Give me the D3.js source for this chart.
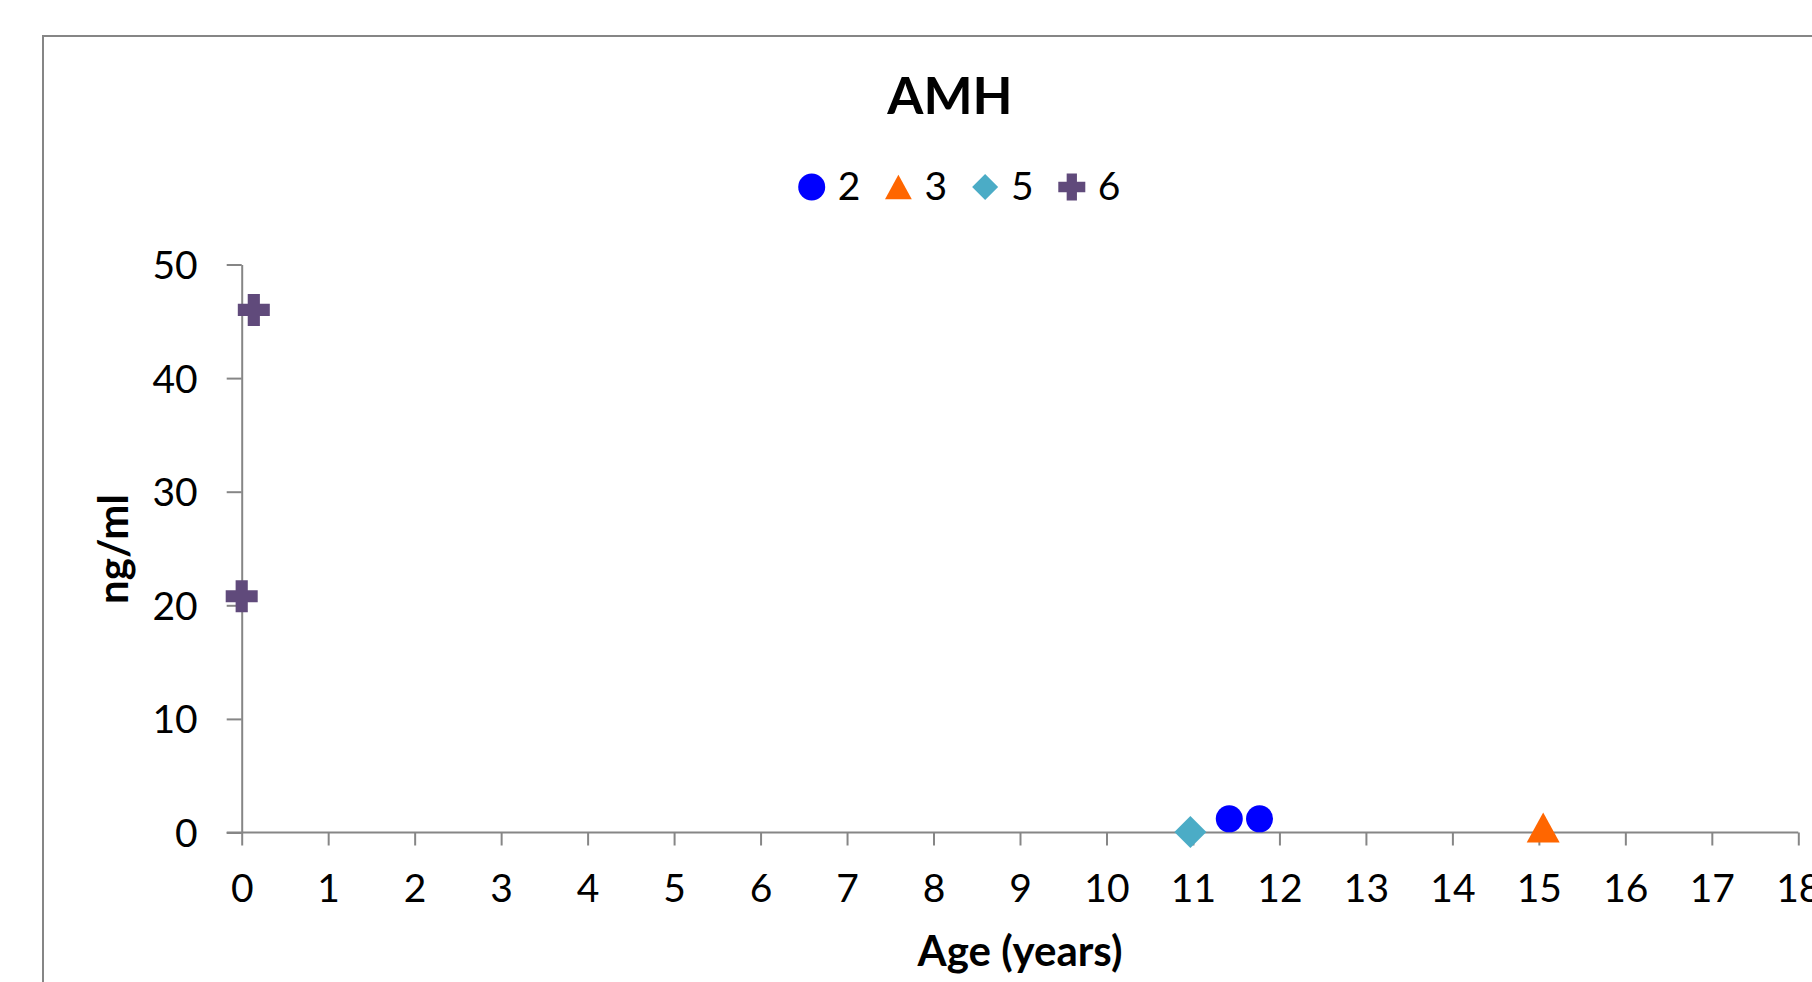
<!DOCTYPE html>
<html>
<head>
<meta charset="utf-8">
<script src="https://cdn.jsdelivr.net/npm/d3@7"></script>
<style>
  body { margin: 0; background: #fff; }
  svg { display: block; font-family: Lato, "Open Sans", sans-serif; }
</style>
</head>
<body>
<svg id="chart" width="1812" height="982"></svg>
<script>
// series (patient numbers) and their points
const seriesNames = ["2", "3", "5", "6"];
const age2 = [11.42, 11.77];
const amh2 = [1.2, 1.2];
const age3 = [15.05];
const amh3 = [0.44];
const age5 = [10.97];
const amh5 = [0.05];
const age6 = [0.14, 0.0];
const amh6 = [46.0, 20.8];

const xTicks = d3.range(0, 19, 1);
const yTicks = [0, 10, 20, 30, 40, 50];

const colors = ["#0000ff", "#ff6600", "#4bacc6", "#604a7b"];

const svg = d3.select("#chart");
const gray = "#868686";

const x = d3.scaleLinear().domain([0, 18]).range([241.7, 1798.3]);
const y = d3.scaleLinear().domain([0, 50]).range([832.5, 264.5]);

// marker shapes, all drawn around a bounding-box center
const circleShape = { draw(ctx, s) { const r = s / 2; ctx.moveTo(r, 0); ctx.arc(0, 0, r, 0, 2 * Math.PI); } };
const triangleShape = { draw(ctx, s) { const w = s * 1.03, h = s * 0.94; ctx.moveTo(0, -h / 2); ctx.lineTo(w / 2, h / 2); ctx.lineTo(-w / 2, h / 2); ctx.closePath(); } };
const diamondShape = { draw(ctx, s) { const r = s / 2; ctx.moveTo(0, -r); ctx.lineTo(r, 0); ctx.lineTo(0, r); ctx.lineTo(-r, 0); ctx.closePath(); } };
const crossShape = { draw(ctx, s) {
    const r = s / 2, a = s * 0.19;
    ctx.moveTo(-a, -r); ctx.lineTo(a, -r); ctx.lineTo(a, -a); ctx.lineTo(r, -a); ctx.lineTo(r, a);
    ctx.lineTo(a, a); ctx.lineTo(a, r); ctx.lineTo(-a, r); ctx.lineTo(-a, a); ctx.lineTo(-r, a);
    ctx.lineTo(-r, -a); ctx.lineTo(-a, -a); ctx.closePath();
} };
const shapes = [circleShape, triangleShape, diamondShape, crossShape];
const plotSizes = [27, 32, 32, 32];
const legendSizes = [27, 26, 26, 27];

const series = [
  { ages: age2, vals: amh2 },
  { ages: age3, vals: amh3 },
  { ages: age5, vals: amh5 },
  { ages: age6, vals: amh6 }
].map((s, i) => ({ name: seriesNames[i], color: colors[i], shape: shapes[i], size: plotSizes[i],
  points: s.ages.map((a, j) => ({ age: a, value: s.vals[j] })) }));

// outer chart frame (runs past the picture edges)
svg.append("rect")
    .attr("x", 43).attr("y", 36)
    .attr("width", 1900).attr("height", 1100)
    .attr("fill", "none")
    .attr("stroke", gray)
    .attr("stroke-width", 2);

// title
svg.append("text")
    .attr("x", 950).attr("y", 114)
    .attr("text-anchor", "middle")
    .attr("font-size", 52)
    .attr("font-weight", "bold")
    .text("AMH");

// legend
const legend = svg.append("g").attr("transform", "translate(811.7, 187)");
const items = legend.selectAll("g.item").data(series).enter()
    .append("g").attr("class", "item")
    .attr("transform", (d, i) => `translate(${i * 86.7}, 0)`);
items.append("path")
    .attr("d", (d, i) => d3.symbol().type(d.shape).size(legendSizes[i])())
    .attr("fill", d => d.color);
items.append("text")
    .attr("x", 26).attr("y", 12.5)
    .attr("font-size", 39)
    .text(d => d.name);

// axes
const xAxisGroup = svg.append("g")
    .attr("class", "xAxis")
    .attr("transform", `translate(0, ${y(0)})`);
const yAxisGroup = svg.append("g")
    .attr("class", "yAxis")
    .attr("transform", `translate(${x(0)}, 0)`);

xAxisGroup.call(d3.axisBottom(x).tickValues(xTicks).tickSize(13).tickSizeOuter(0).tickFormat(d3.format("d")));
yAxisGroup.call(d3.axisLeft(y).tickValues(yTicks).tickSize(15).tickSizeOuter(0).tickFormat(d3.format("d")));

svg.selectAll(".xAxis path, .yAxis path, .xAxis line, .yAxis line")
    .attr("stroke", gray)
    .attr("stroke-width", 2);
svg.selectAll(".xAxis text")
    .attr("y", 69).attr("dy", 0)
    .attr("font-size", 39)
    .attr("font-family", "Lato, 'Open Sans', sans-serif")
    .attr("fill", "#000");
svg.selectAll(".yAxis text")
    .attr("x", -44).attr("dy", "0.36em")
    .attr("font-size", 39)
    .attr("font-family", "Lato, 'Open Sans', sans-serif")
    .attr("fill", "#000");
// x axis line also starts at the 0 tick of the y axis
xAxisGroup.select("path.domain").attr("d", `M${x(0) - 15},0H${x(18)}`);

// axis titles
svg.append("text")
    .attr("x", 1020).attr("y", 966)
    .attr("text-anchor", "middle")
    .attr("font-size", 42)
    .attr("font-weight", "bold")
    .text("Age (years)");
svg.append("text")
    .attr("transform", "translate(128, 549) rotate(-90)")
    .attr("text-anchor", "middle")
    .attr("font-size", 42)
    .attr("font-weight", "bold")
    .text("ng/ml");

// points
const groups = svg.selectAll("g.series").data(series).enter()
    .append("g").attr("class", "series");
groups.selectAll("path.point")
    .data(d => d.points.map(p => ({ ...p, s: d })))
    .enter()
    .append("path")
    .attr("class", "point")
    .attr("transform", d => `translate(${x(d.age)}, ${y(d.value)})`)
    .attr("d", d => d3.symbol().type(d.s.shape).size(d.s.size)())
    .attr("fill", d => d.s.color);
</script>
</body>
</html>
